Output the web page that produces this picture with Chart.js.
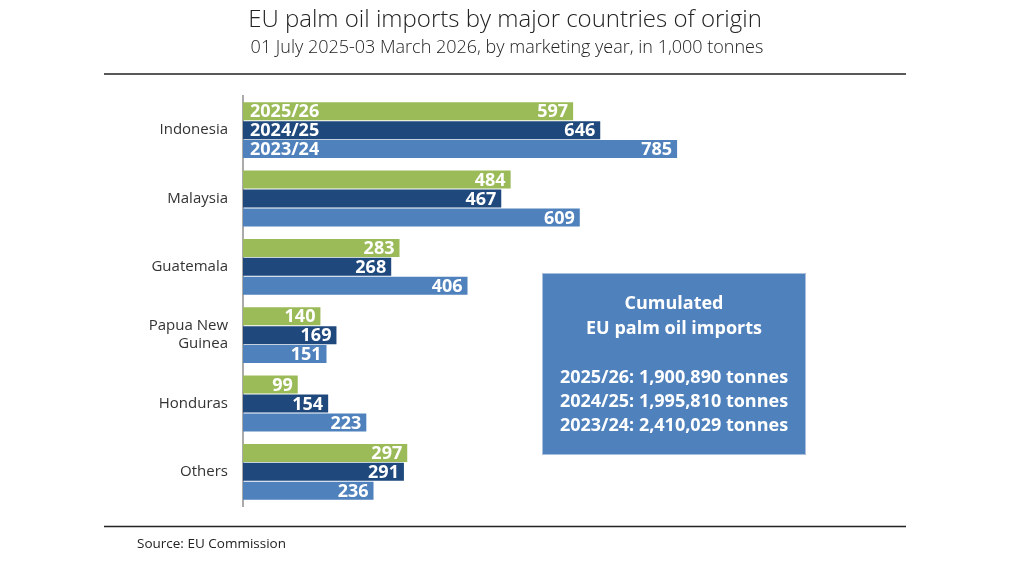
<!DOCTYPE html>
<html>
<head>
<meta charset="utf-8">
<script src="https://cdn.jsdelivr.net/npm/chart.js@4"></script>
<style>
html,body{margin:0;padding:0;background:#fff;}
#wrap{width:1010px;height:568px;position:relative;}
</style>
</head>
<body>
<div id="wrap"><canvas id="c" width="1010" height="568"></canvas></div>
<script>
const categories = ["Indonesia", "Malaysia", "Guatemala", ["Papua New", "Guinea"], "Honduras", "Others"];
const seriesNames = ["2025/26", "2024/25", "2023/24"];
const values2526 = [597, 484, 283, 140, 99, 297];
const values2425 = [646, 467, 268, 169, 154, 291];
const values2324 = [785, 609, 406, 151, 223, 236];
const seriesColors = ["#9bbb59", "#1f487c", "#4f81bd"];
const titleText = "EU palm oil imports by major countries of origin";
const subtitleText = "01 July 2025-03 March 2026, by marketing year, in 1,000 tonnes";
const sourceText = "Source: EU Commission";
const boxLines = ["Cumulated", "EU palm oil imports", "", "2025/26: 1,900,890 tonnes", "2024/25: 1,995,810 tonnes", "2023/24: 2,410,029 tonnes"];

const FONT = "'Open Sans', 'DejaVu Sans', sans-serif";

const decor = {
  id: 'decor',
  afterDraw(chart) {
    const ctx = chart.ctx;
    ctx.save();
    // title
    ctx.fillStyle = '#222';
    ctx.textAlign = 'center';
    ctx.textBaseline = 'middle';
    ctx.font = "300 24px " + FONT;
    ctx.fillText(titleText, 505, 20);
    ctx.font = "300 18px " + FONT;
    ctx.fillText(subtitleText, 507, 48);
    // rules
    ctx.strokeStyle = '#222';
    ctx.lineWidth = 1.5;
    ctx.beginPath(); ctx.moveTo(104, 74); ctx.lineTo(906, 74); ctx.stroke();
    ctx.beginPath(); ctx.moveTo(104, 526.5); ctx.lineTo(906, 526.5); ctx.stroke();
    // source
    ctx.textAlign = 'left';
    ctx.font = "400 13.5px " + FONT;
    ctx.fillStyle = '#222';
    ctx.fillText(sourceText, 137, 544);
    // data labels
    ctx.fillStyle = '#fff';
    ctx.font = "bold 18px " + FONT;
    chart.data.datasets.forEach((ds, di) => {
      const meta = chart.getDatasetMeta(di);
      meta.data.forEach((bar, i) => {
        ctx.textAlign = 'right';
        ctx.fillText(String(ds.data[i]), bar.x - 5, bar.y + 1);
        if (i === 0) {
          ctx.textAlign = 'left';
          ctx.fillText(ds.label, bar.base + 7, bar.y + 1);
        }
      });
    });
    // box
    const bx = 542, by = 273, bw = 264, bh = 182;
    ctx.fillStyle = '#4f81bd';
    ctx.fillRect(bx, by, bw, bh);
    ctx.strokeStyle = '#a9bfdc';
    ctx.lineWidth = 1;
    ctx.strokeRect(bx + 0.5, by + 0.5, bw - 1, bh - 1);
    ctx.fillStyle = '#fff';
    ctx.textAlign = 'center';
    ctx.font = "bold 18px " + FONT;
    const ys = [304, 329, 354, 378, 402, 426];
    boxLines.forEach((t, k) => { if (t) ctx.fillText(t, bx + bw / 2, ys[k]); });
    ctx.restore();
  }
};

const allSeries = [values2526, values2425, values2324];
new Chart(document.getElementById('c'), {
  type: 'bar',
  data: {
    labels: categories,
    datasets: allSeries.map((v, k) => ({
      label: seriesNames[k],
      data: v,
      backgroundColor: seriesColors[k],
      borderWidth: 0,
      categoryPercentage: 0.832,
      barPercentage: 0.95
    }))
  },
  options: {
    indexAxis: 'y',
    responsive: false,
    animation: false,
    devicePixelRatio: 1,
    layout: { padding: { left: 0, right: 214, top: 96, bottom: 62 } },
    plugins: { legend: { display: false }, title: { display: false }, tooltip: { enabled: false } },
    scales: {
      x: { display: false, min: 0, max: 1000 },
      y: {
        afterFit(scale) { scale.width = 243; },
        grid: { display: false, drawTicks: false },
        border: { display: true, color: '#aaa', width: 2 },
        ticks: { color: '#333', font: { family: FONT, size: 15 }, padding: 15 }
      }
    }
  },
  plugins: [decor]
});
</script>
</body>
</html>
